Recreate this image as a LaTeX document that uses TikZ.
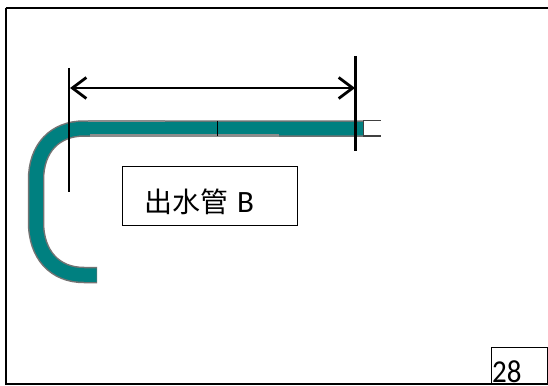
\documentclass[tikz,border=0pt]{standalone}
\usepackage{fontspec}
\setmainfont{Carlito}
\newfontfamily\cjk{Noto Sans CJK SC}[Scale=1]
\usetikzlibrary{arrows.meta}
\definecolor{pipeteal}{HTML}{008080}
\tikzset{
  frameline/.style={draw=black,line width=2pt},
  dimline/.style={draw=black,line width=2.8pt},
  dimarrow/.style={draw=black,line width=2.4pt,{Straight Barb[length=14pt,width=21pt,line width=2.8pt]}-{Straight Barb[length=14pt,width=21pt,line width=2.8pt]}},
  pipeedge/.style={draw=black!55,line width=16.5pt,line join=round},
  pipefill/.style={draw=pipeteal,line width=13.5pt,line join=round},
  stub/.style={draw=black!75,line width=1.4pt},
  greystrip/.style={draw=black!45,line width=2.4pt},
  labelbox/.style={draw=black,line width=0.9pt,minimum width=175pt,minimum height=59pt,inner sep=0pt},
  pagebox/.style={draw=black,line width=1.6pt,minimum width=56pt,minimum height=37pt,inner sep=0pt}
}
\begin{document}
\begin{tikzpicture}[x=1pt,y=-1pt]
\useasboundingbox (0,0) rectangle (548,385);
\fill[white] (0,0) rectangle (548,385);
\draw[frameline] (5.5,8.5) -- (548,8.5);
\draw[frameline] (5.5,8.5) -- (5.5,383.5) -- (548,383.5);
% pipe
\coordinate (pipeEnd) at (97,275);
\coordinate (pipeTop) at (363,128.5);
\coordinate (stubEnd) at (381,128);
\path[pipeedge] (pipeEnd) -- (84,275) .. controls (55,275) and (36,255) .. (36,222) -- (36,180) .. controls (36,148) and (55,128.5) .. (84,128.5) -- (pipeTop);
\draw[pipefill,line cap=butt] (96.5,275) -- (84,275) .. controls (55,275) and (36,255) .. (36,222) -- (36,180) .. controls (36,148) and (55,128.5) .. (84,128.5) -- (pipeTop);
\draw[greystrip] (90,135.3) -- (279,135.3);
\draw[greystrip,line width=1.6pt] (88,120.8) -- (165,120.8);
\fill[white] (363.5,117) rectangle (382,140);
\draw[stub] (363,120.5) -- (stubEnd |- 0,120.5);
\draw[stub] (363,136) -- (stubEnd |- 0,136);
\draw[stub] (363.5,120.5) -- (363.5,136);
\draw[black,line width=1pt] (217,120.5) -- (217,136);
% dimensions
\coordinate (leftA) at (69,68);
\coordinate (leftB) at (69,192);
\coordinate (rightA) at (355.5,56);
\coordinate (rightB) at (355.5,151);
\draw[dimline] (leftA) -- (leftB);
\draw[dimline] (rightA) -- (rightB);
\coordinate (arrowL) at (70,88);
\coordinate (arrowR) at (355,88);
\draw[dimarrow] (arrowL) -- (arrowR);
% label
\node[labelbox] (label) at (209.5,195.5) {};
\node[anchor=base west,inner sep=0pt,font=\fontsize{28pt}{28pt}\selectfont] (labeltext) at (144,212) {{\cjk 出水管}\hspace{9pt}\fontsize{31pt}{31pt}\selectfont B};
% page number
\node[pagebox] (pagebox) at (519.5,366) {};
\node[anchor=base west,inner sep=0pt,font=\fontsize{29pt}{29pt}\selectfont,yscale=1.1] (pagenum) at (492,382.5) {28};
\end{tikzpicture}
\end{document}
